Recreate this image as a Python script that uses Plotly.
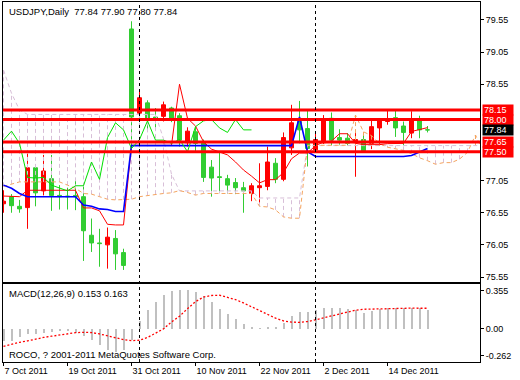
import plotly.graph_objects as go
import pandas as pd

# ---------------- data ----------------
dates = pd.bdate_range("2011-10-07", periods=54)
bars = list(range(54))

open_ = [76.69, 76.80, 76.65, 76.63, 77.25, 76.89, 77.08, 76.82, 76.81, 76.82,
         76.80, 76.20, 76.08, 76.05, 76.15, 75.93, 79.41, 78.10, 78.26, 78.04,
         78.05, 78.18, 78.06, 77.64, 77.81, 77.65, 77.26, 77.11, 77.08, 77.02,
         76.94, 76.85, 76.94, 76.96, 77.32, 77.07, 77.56, 77.97, 77.86, 77.53,
         77.64, 78.02, 77.72, 77.71, 77.64, 77.69, 77.63, 77.87, 77.97, 78.03,
         77.90, 77.79, 78.00, 77.84]
high = [76.90, 76.84, 76.75, 77.50, 77.29, 77.45, 77.45, 76.98, 76.94, 77.06,
        76.96, 76.46, 76.30, 76.32, 76.28, 75.99, 79.53, 78.45, 78.30, 78.18,
        78.28, 78.20, 78.10, 77.88, 77.88, 77.69, 77.37, 77.48, 77.14, 77.09,
        77.03, 77.01, 77.32, 77.58, 77.40, 77.80, 78.23, 78.29, 78.15, 77.80,
        78.07, 78.11, 77.85, 77.79, 77.79, 77.79, 78.00, 77.98, 78.14, 78.15,
        77.97, 78.13, 78.06, 77.90]
low = [76.55, 76.55, 76.55, 76.30, 76.65, 76.82, 76.58, 76.60, 76.60, 76.59,
       75.80, 75.94, 75.71, 75.68, 75.66, 75.66, 77.57, 78.00, 77.84, 77.86,
       77.97, 77.96, 77.58, 77.58, 77.50, 77.03, 76.80, 76.88, 76.85, 76.84,
       76.55, 76.73, 76.67, 76.90, 77.01, 77.04, 77.45, 77.63, 77.27, 77.48,
       77.62, 77.60, 77.61, 77.60, 77.11, 77.48, 77.54, 77.60, 77.92, 77.73,
       77.60, 77.71, 77.71, 77.80]
close = [76.73, 76.66, 76.61, 77.25, 76.86, 77.20, 76.82, 76.80, 76.80, 76.80,
         76.27, 76.08, 76.07, 76.17, 75.91, 75.73, 78.04, 78.34, 78.02, 78.02,
         78.23, 78.02, 77.68, 77.82, 77.63, 77.10, 77.09, 77.10, 76.98, 76.94,
         76.89, 76.97, 76.97, 77.34, 77.07, 77.72, 77.95, 77.84, 77.55, 77.69,
         77.98, 77.68, 77.68, 77.63, 77.69, 77.50, 77.89, 77.98, 78.00, 77.87,
         77.80, 78.00, 77.84, 77.84]

tenkan = [76.81, 76.80, 76.80, 76.90, 76.90, 76.90, 76.90, 76.90, 76.90, 76.90,
          76.625, 76.625, 76.58, 76.37, 76.36, 76.36, 77.60, 77.60, 77.60, 77.60,
          77.60, 77.60, 78.55, 78.02, 77.90, 77.655, 77.54, 77.50, 77.45, 77.34,
          77.215, 77.12, 77.015, 77.065, 77.065, 77.175, 77.39, 77.48, 77.48, 77.595,
          77.65, 77.665, 77.78, 77.78, 77.63, 77.61, 77.61, 77.61, 77.625, 77.63,
          77.63, 77.815, 77.845, 77.875]
kijun = [76.98, 76.93, 76.85, 76.80, 76.80, 76.80, 76.80, 76.80, 76.80, 76.80,
         76.67, 76.65, 76.61, 76.60, 76.57, 76.57, 77.595, 77.595, 77.595, 77.595,
         77.595, 77.595, 77.595, 77.595, 77.595, 77.595, 77.595, 77.595, 77.595, 77.595,
         77.595, 77.595, 77.595, 77.595, 77.595, 77.595, 77.595, 78.04, 77.50, 77.425,
         77.425, 77.425, 77.425, 77.425, 77.425, 77.425, 77.425, 77.425, 77.425, 77.425,
         77.425, 77.44, 77.50, 77.55]
chikou = [77.68, 77.82, 77.63, 77.10, 77.09, 77.10, 76.98, 76.94, 76.89, 76.97,
          76.97, 77.34, 77.07, 77.72, 77.95, 77.84, 77.55, 77.69, 77.98, 77.68,
          77.68, 77.63, 77.69, 77.50, 77.89, 77.98, 78.00, 77.87, 77.80, 78.00,
          77.84, 77.84]
span_a = [76.96, 77.00, 77.03, 77.03, 77.03, 77.03, 77.03, 77.03, 76.98, 76.93,
          76.85, 76.84, 76.80, 76.76, 76.75, 76.75, 76.76, 76.80, 76.82, 76.84,
          76.85, 76.86, 76.895, 76.865, 76.825, 76.85, 76.85, 76.85, 76.85, 76.85,
          76.85, 76.85, 76.65, 76.64, 76.595, 76.485, 76.465, 76.465, 77.60, 77.60,
          77.60, 77.60, 77.60, 77.60, 78.07, 77.81, 77.75, 77.625, 77.57, 77.55,
          77.52, 77.47, 77.405, 77.36, 77.305, 77.33, 77.33, 77.385, 77.49, 77.76,
          77.49]
span_b = [78.77, 78.41, 78.15, 78.08, 78.08, 78.08, 78.08, 78.08, 78.08, 78.08,
          78.08, 78.08, 78.08, 78.08, 78.08, 78.08, 78.08, 78.08, 78.08, 78.08,
          77.70, 77.15, 76.89, 76.89, 76.89, 76.89, 76.89, 76.89, 76.89, 76.89,
          76.89, 76.89, 76.78, 76.78, 76.78, 76.78, 76.78, 76.78, 77.595, 77.595,
          77.595, 77.595, 77.595, 77.595, 77.595, 77.595, 77.595, 77.595, 77.595, 77.595,
          77.595, 77.595, 77.595, 77.595, 77.595, 77.595, 77.595, 77.595, 77.595, 77.595,
          77.595]
macd_main = [-0.092, -0.092, -0.066, -0.040, -0.040, -0.030, -0.025, -0.020, -0.020, -0.030,
             -0.060, -0.090, -0.130, -0.165, -0.180, -0.170, -0.090, 0.060, 0.150, 0.215,
             0.270, 0.300, 0.310, 0.310, 0.290, 0.260, 0.215, 0.160, 0.115, 0.075,
             0.038, 0.016, 0.005, 0.015, 0.012, 0.047, 0.100, 0.134, 0.136, 0.150,
             0.165, 0.165, 0.165, 0.157, 0.152, 0.126, 0.139, 0.157, 0.165, 0.165,
             0.165, 0.165, 0.163, 0.153]
macd_signal = [-0.138, -0.120, -0.106, -0.095, -0.080, -0.068, -0.058, -0.047, -0.037, -0.030,
               -0.027, -0.029, -0.040, -0.055, -0.070, -0.085, -0.093, -0.090, -0.068, -0.035,
               0.000, 0.055, 0.100, 0.160, 0.215, 0.252, 0.264, 0.266, 0.252, 0.232,
               0.205, 0.175, 0.145, 0.115, 0.085, 0.063, 0.053, 0.052, 0.058, 0.072,
               0.088, 0.102, 0.118, 0.137, 0.148, 0.155, 0.157, 0.158, 0.162, 0.163,
               0.164, 0.164, 0.163, 0.163]

level_lines = [78.15, 78.00, 77.65, 77.50]
current_price = 77.84
price_ticks = [79.55, 79.05, 78.55, 77.05, 76.55, 76.05, 75.55]
separator_bars = [17, 39]
date_tick_bars = [0, 8, 16, 24, 32, 40, 48]

# ---------------- figure ----------------
RED = "#FF0000"
GREEN = "#32CD32"
SANDY = "#F4A460"
THISTLE = "#D8BFD8"
DASH = "4px,3px"
FONT = "Liberation Sans"

fig = go.Figure()

# cloud hatch (vertical dotted lines between span A and span B)
hx_t, hy_t, hx_s, hy_s = [], [], [], []
for i, (a, b) in enumerate(zip(span_a, span_b)):
    if a >= b:
        hx_s += [i, i, None]; hy_s += [a, b, None]
    else:
        hx_t += [i, i, None]; hy_t += [a, b, None]
fig.add_trace(go.Scatter(x=hx_t, y=hy_t, mode="lines", line=dict(color=THISTLE, width=1, dash=DASH),
                         xaxis="x", yaxis="y", hoverinfo="skip"))
fig.add_trace(go.Scatter(x=hx_s, y=hy_s, mode="lines", line=dict(color=SANDY, width=1, dash=DASH),
                         xaxis="x", yaxis="y", hoverinfo="skip"))
cloud_x = list(range(len(span_a)))
fig.add_trace(go.Scatter(x=cloud_x, y=span_b, mode="lines", line=dict(color=THISTLE, width=1, dash=DASH),
                         xaxis="x", yaxis="y"))
fig.add_trace(go.Scatter(x=cloud_x, y=span_a, mode="lines", line=dict(color=SANDY, width=1, dash=DASH),
                         xaxis="x", yaxis="y"))

# candles (red = up, green = down)
fig.add_trace(go.Candlestick(
    x=bars, open=open_, high=high, low=low, close=close,
    increasing=dict(line=dict(color=RED, width=1), fillcolor=RED),
    decreasing=dict(line=dict(color=GREEN, width=1), fillcolor=GREEN),
    whiskerwidth=0, xaxis="x", yaxis="y"))

# Ichimoku lines
fig.add_trace(go.Scatter(x=bars, y=tenkan, mode="lines", line=dict(color=RED, width=1),
                         xaxis="x", yaxis="y"))
fig.add_trace(go.Scatter(x=bars, y=kijun, mode="lines", line=dict(color="#0000FF", width=1.6),
                         xaxis="x", yaxis="y"))
fig.add_trace(go.Scatter(x=list(range(len(chikou))), y=chikou, mode="lines",
                         line=dict(color="#00E000", width=1), xaxis="x", yaxis="y"))

# MACD
fig.add_trace(go.Bar(x=bars, y=macd_main, width=0.25, marker=dict(color="#C0C0C0", line=dict(width=0)),
                     xaxis="x2", yaxis="y2"))
fig.add_trace(go.Scatter(x=bars, y=macd_signal, mode="lines", line=dict(color=RED, width=1.3, dash="2px,2px"),
                         xaxis="x2", yaxis="y2"))

# shapes
shapes = []
for lv in level_lines:
    shapes.append(dict(type="line", xref="paper", x0=0, x1=1, yref="y", y0=lv, y1=lv,
                       line=dict(color=RED, width=3), layer="above"))
for sb in separator_bars:
    shapes.append(dict(type="line", xref="x", x0=sb, x1=sb, yref="paper", y0=0, y1=1,
                       line=dict(color="black", width=1, dash="3px,3px"), layer="above"))

# annotations
annotations = [
    dict(text="USDJPY,Daily\u00a0\u00a0%.2f %.2f %.2f %.2f" % (open_[-1], high[-1], low[-1], close[-1]),
         xref="paper", yref="paper", x=0.0084, y=0.975, xanchor="left", yanchor="middle",
         showarrow=False, font=dict(size=9.5, color="black", family=FONT)),
    dict(text="MACD(12,26,9) %.3f %.3f" % (macd_main[-1], macd_signal[-1]),
         xref="paper", yref="paper", x=0.0084, y=0.1908, xanchor="left", yanchor="middle",
         showarrow=False, font=dict(size=9.5, color="black", family=FONT)),
    dict(text="ROCO, ? 2001-2011 MetaQuotes Software Corp.",
         xref="paper", yref="paper", x=0.0084, y=0.0214, xanchor="left", yanchor="middle",
         showarrow=False, font=dict(size=9.5, color="black", family=FONT)),
]
for lv in level_lines + [current_price]:
    annotations.append(dict(
        text="%.2f" % lv, xref="paper", x=1, xshift=2, xanchor="left", yref="y", y=lv, yanchor="middle",
        showarrow=False, font=dict(size=9, color="white", family=FONT),
        bgcolor=("black" if lv == current_price else RED), borderpad=1, width=28, height=8, align="left"))

tick_text = ["%d %s %d" % (dates[i].day, dates[i].strftime("%b"), dates[i].year) for i in date_tick_bars]

x_range = [-0.0625, 59.5625]
fig.update_layout(
    width=520, height=380,
    margin=dict(l=3, r=40, t=2, b=18),
    paper_bgcolor="white", plot_bgcolor="white",
    font=dict(family=FONT, size=9, color="black"),
    showlegend=False,
    boxgap=0.5, boxgroupgap=0,
    bargap=0,
    shapes=shapes, annotations=annotations,
    xaxis=dict(domain=[0, 1], anchor="y", range=x_range, showticklabels=False, ticks="",
               showline=True, linecolor="black", linewidth=1, mirror=True,
               showgrid=False, zeroline=False, rangeslider=dict(visible=False)),
    xaxis2=dict(domain=[0, 1], anchor="y2", range=x_range, matches="x",
                tickvals=date_tick_bars, ticktext=tick_text, ticks="outside", ticklen=3,
                tickcolor="black", ticklabelposition="outside right",
                showline=True, linecolor="black", linewidth=1, mirror=True,
                showgrid=False, zeroline=False, rangeslider=dict(visible=False)),
    yaxis=dict(domain=[0.2222, 1], anchor="x", side="right", range=[75.472, 79.830],
               tickvals=price_ticks, ticktext=["%.2f" % v for v in price_ticks],
               ticks="outside", ticklen=3, tickcolor="black",
               showline=True, linecolor="black", linewidth=1, mirror=True,
               showgrid=False, zeroline=False),
    yaxis2=dict(domain=[0, 0.21667], anchor="x2", side="right", range=[-0.262, 0.355],
                tickvals=[0.2996, 0.0, -0.2145], ticktext=["0.355", "0.00", "-0.262"],
                ticks="outside", ticklen=3, tickcolor="black",
                showline=True, linecolor="black", linewidth=1, mirror=True,
                showgrid=False, zeroline=False),
)

fig.write_html("out.html", config={"displayModeBar": False},
               post_script="document.body.style.margin='0';document.body.style.padding='0';")
